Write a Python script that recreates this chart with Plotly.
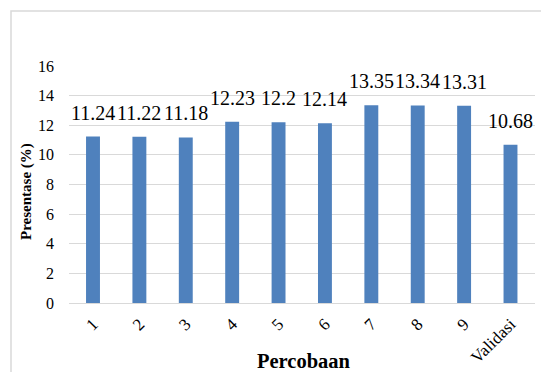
import plotly.graph_objects as go

# Trial results (percent) per run, plus the validation run
categories = ["1", "2", "3", "4", "5", "6", "7", "8", "9", "Validasi"]
values = [11.24, 11.22, 11.18, 12.23, 12.2, 12.14, 13.35, 13.34, 13.31, 10.68]
y_ticks = [0, 2, 4, 6, 8, 10, 12, 14, 16]

W, H = 541, 372
ML, MR, MT, MB = 69, 6, 66, 69
PW, PH = W - ML - MR, H - MT - MB

SERIF = "Liberation Serif"
BAR = "#4F81BD"
GRID = "#D9D9D9"


def px_x(px):
    return (px - ML) / PW


def px_y(py):
    return 1 - (py - MT) / PH


fig = go.Figure()
fig.add_trace(go.Bar(
    x=categories,
    y=values,
    marker=dict(color=BAR, line=dict(width=0)),
    hoverinfo="skip",
))

annotations = []
# value labels above each bar (category axis: position by index)
for i, v in enumerate(values):
    annotations.append(dict(
        x=i, y=v, xref="x", yref="y",
        text=f"{v:g}", showarrow=False,
        yanchor="bottom", xanchor="center", yshift=11,
        font=dict(family=SERIF, size=20, color="#000000"),
    ))

# axis titles
annotations.append(dict(
    x=px_x(26), y=px_y(192), xref="paper", yref="paper",
    text="<b>Presentase (%)</b>", textangle=-90, showarrow=False,
    xanchor="center", yanchor="middle",
    font=dict(family=SERIF, size=15, color="#000000"),
))
annotations.append(dict(
    x=px_x(304), y=px_y(361), xref="paper", yref="paper",
    text="<b>Percobaan</b>", showarrow=False,
    xanchor="center", yanchor="middle",
    font=dict(family=SERIF, size=20.5, color="#000000"),
))

fig.update_layout(
    width=W, height=H,
    margin=dict(l=ML, r=MR, t=MT, b=MB, pad=0),
    paper_bgcolor="white",
    plot_bgcolor="white",
    showlegend=False,
    bargap=0.7,
    font=dict(family=SERIF, color="#000000"),
    annotations=annotations,
    shapes=[dict(
        type="rect", xref="paper", yref="paper",
        x0=px_x(11), x1=px_x(560), y0=px_y(400), y1=px_y(11),
        line=dict(color="#D9D9D9", width=1.5), fillcolor="rgba(0,0,0,0)",
        layer="below",
    )],
)

fig.update_xaxes(
    type="category",
    showgrid=False, zeroline=False, showline=False,
    ticks="", tickangle=-45,
    ticklabelstandoff=7,
    tickfont=dict(family=SERIF, size=17, color="#000000"),
)
fig.update_yaxes(
    range=[0, 16],
    tickvals=y_ticks,
    showgrid=True, gridcolor=GRID, gridwidth=1,
    zeroline=True, zerolinecolor=GRID, zerolinewidth=1,
    showline=False, ticks="",
    ticklabelstandoff=14,
    tickfont=dict(family=SERIF, size=16, color="#000000"),
)

fig.write_html("out.html")
